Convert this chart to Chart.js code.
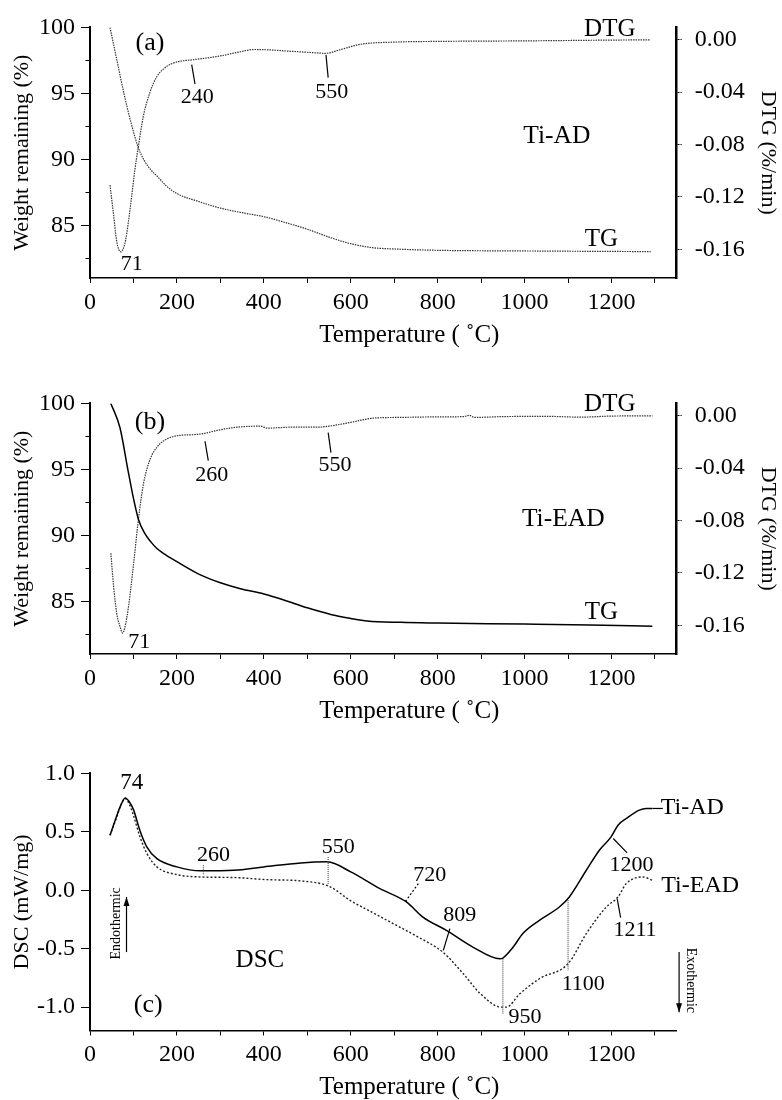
<!DOCTYPE html>
<html>
<head>
<meta charset="utf-8">
<script src="https://cdn.jsdelivr.net/npm/chart.js@4.4.0/dist/chart.umd.min.js"></script>
<style>
  body { margin: 0; background: #fff; }
  .panel { position: absolute; left: 0; width: 782px; }
</style>
</head>
<body>
<div class="panel" style="top:0px;height:350px"><canvas id="chartA" width="782" height="350"></canvas></div>
<div class="panel" style="top:376px;height:350px"><canvas id="chartB" width="782" height="350"></canvas></div>
<div class="panel" style="top:753px;height:347px"><canvas id="chartC" width="782" height="347"></canvas></div>

<script>
// ---- axis ticks ----
const tempTicks = [0, 100, 200, 300, 400, 500, 600, 700, 800, 900, 1000, 1100, 1200, 1300];
const tempLabels = [0, 200, 400, 600, 800, 1000, 1200];
const weightTicks = [85, 90, 95, 100];
const weightMinor = [82.5, 87.5, 92.5, 97.5];
const dtgTicks = [0, -0.04, -0.08, -0.12, -0.16];
const dscTicks = [1.0, 0.5, 0.0, -0.5, -1.0];

// ---- (a) Ti-AD ----
const tgA_temp = [46, 62, 78, 95, 111, 125, 140, 155, 175, 200, 250, 300, 350, 400, 450, 500, 550, 600, 650, 700, 800, 1000, 1290];
const tgA_val  = [100, 97.5, 95.0, 92.7, 90.9, 89.9, 89.2, 88.7, 88.0, 87.4, 86.8, 86.3, 85.95, 85.65, 85.2, 84.7, 84.1, 83.6, 83.3, 83.2, 83.1, 83.05, 83.0];
const dtgA_temp = [46, 54, 61, 66, 71, 76, 82, 88, 95, 103, 111, 123, 138, 154, 170, 190, 210, 235, 300, 346, 377, 420, 454, 500, 542, 577, 623, 704, 800, 1000, 1200, 1290];
const dtgA_val  = [-0.111, -0.133, -0.153, -0.160, -0.162, -0.160, -0.153, -0.140, -0.122, -0.100, -0.082, -0.058, -0.040, -0.028, -0.022, -0.018, -0.0162, -0.0153, -0.0123, -0.0091, -0.0074, -0.0078, -0.0086, -0.0095, -0.0103, -0.0074, -0.0034, -0.0017, -0.0012, -0.0008, -0.0002, 0.0];

// ---- (b) Ti-EAD ----
const tgB_temp = [48, 69, 87, 100, 111.5, 125, 140, 154, 175, 200, 254, 300, 346, 400, 446, 500, 554, 600, 638, 715, 800, 1000, 1150, 1294];
const tgB_val  = [100, 98.15, 95.0, 92.8, 91.2, 90.2, 89.5, 89.0, 88.5, 88.0, 87.0, 86.4, 85.95, 85.55, 85.1, 84.5, 84.0, 83.7, 83.5, 83.4, 83.35, 83.27, 83.2, 83.1];
const dtgB_temp = [48, 54, 61.5, 69, 75, 80, 88.5, 100, 111.5, 123, 138.5, 154, 170, 190, 210, 238, 261, 292, 338, 392, 408, 461, 523, 550, 600, 654, 715, 800, 860, 873, 885, 950, 1050, 1130, 1200, 1294];
const dtgB_val  = [-0.105, -0.129, -0.151, -0.161, -0.166, -0.162, -0.146, -0.114, -0.079, -0.052, -0.033, -0.024, -0.019, -0.016, -0.0148, -0.0144, -0.0136, -0.0112, -0.0087, -0.0079, -0.0094, -0.0087, -0.0087, -0.0079, -0.005, -0.0017, -0.0012, -0.0008, -0.0006, 0.0004, -0.0012, -0.0006, -0.0004, -0.0010, -0.0002, 0.0];

// ---- (c) DSC ----
const dscAD_temp = [46, 60, 70, 81, 90, 100, 115, 131, 154, 200, 254, 331, 400, 485, 546, 600, 667, 728, 766, 820, 881, 943, 950, 973, 996, 1034, 1080, 1103, 1142, 1172, 1199, 1215, 1234, 1264, 1280, 1294];
const dscAD_val  = [0.47, 0.62, 0.72, 0.79, 0.76, 0.69, 0.51, 0.37, 0.27, 0.20, 0.166, 0.171, 0.20, 0.234, 0.243, 0.157, 0.014, -0.10, -0.229, -0.343, -0.486, -0.586, -0.58, -0.49, -0.37, -0.257, -0.143, -0.057, 0.171, 0.343, 0.457, 0.557, 0.614, 0.686, 0.70, 0.70];
const dscEAD_temp = [46, 60, 70, 81, 90, 100, 115, 131, 154, 200, 254, 331, 408, 485, 550, 600, 650, 700, 750, 812, 858, 897, 946, 958, 989, 1034, 1100, 1142, 1188, 1215, 1234, 1272, 1294];
const dscEAD_val  = [0.47, 0.61, 0.72, 0.785, 0.74, 0.64, 0.457, 0.314, 0.20, 0.134, 0.114, 0.109, 0.091, 0.08, 0.034, -0.09, -0.19, -0.29, -0.39, -0.53, -0.71, -0.88, -1.0, -1.0, -0.886, -0.757, -0.629, -0.371, -0.143, -0.057, 0.057, 0.114, 0.086];

// text notes, placed in data units (x = temperature, y = left axis)
const notesA = {
  texts: [
    {t: '(a)', x: 138, y: 98.77, size: 26},
    {t: '240', x: 247, y: 94.72, size: 22},
    {t: '550', x: 556, y: 95.09, size: 22},
    {t: '71', x: 96, y: 82.08, size: 22},
    {t: 'DTG', x: 1196, y: 99.87, size: 25},
    {t: 'TG', x: 1177, y: 83.93, size: 25},
    {t: 'Ti-AD', x: 1074, y: 91.77, size: 25.5}
  ],
  lines: [
    {x1: 234, y1: 97.18, x2: 241.6, y2: 95.71},
    {x1: 543, y1: 97.92, x2: 548, y2: 96.19}
  ],
  minorY: weightMinor,
  xTitle: 'Temperature ( ˚C)'
};
const notesB = {
  texts: [
    {t: '(b)', x: 138, y: 98.6, size: 26},
    {t: '260', x: 280, y: 94.55, size: 22},
    {t: '550', x: 564, y: 95.29, size: 22},
    {t: '71', x: 113.5, y: 81.91, size: 22},
    {t: 'DTG', x: 1196, y: 99.95, size: 25},
    {t: 'TG', x: 1177, y: 84.12, size: 25},
    {t: 'Ti-EAD', x: 1089, y: 91.24, size: 25.5}
  ],
  lines: [
    {x1: 264.6, y1: 97.13, x2: 272.2, y2: 95.66},
    {x1: 548, y1: 97.79, x2: 554.5, y2: 96.27}
  ],
  minorY: weightMinor,
  xTitle: 'Temperature ( ˚C)'
};
const notesC = {
  texts: [
    {t: '74', x: 96, y: 0.914, size: 23},
    {t: '260', x: 284, y: 0.30, size: 22},
    {t: '550', x: 571, y: 0.371, size: 22},
    {t: '720', x: 782, y: 0.129, size: 22},
    {t: '809', x: 851, y: -0.214, size: 22},
    {t: '950', x: 1001, y: -1.086, size: 22},
    {t: '1100', x: 1135, y: -0.80, size: 22},
    {t: '1200', x: 1246, y: 0.214, size: 22},
    {t: '1211', x: 1254, y: -0.343, size: 22},
    {t: 'Ti-AD', x: 1386, y: 0.709, size: 24},
    {t: 'Ti-EAD', x: 1404, y: 0.043, size: 24},
    {t: 'DSC', x: 391, y: -0.60, size: 25},
    {t: '(c)', x: 134, y: -0.985, size: 26},
    {t: 'Endothermic', x: 60, y: -0.283, size: 14, rot: -90},
    {t: 'Exothermic', x: 1381, y: -0.771, size: 14, rot: 90}
  ],
  lines: [
    {x1: 261, y1: 0.214, x2: 261, y2: 0.129, dash: [1, 1], color: '#555'},
    {x1: 548, y1: 0.285, x2: 548, y2: 0.043, dash: [1, 1], color: '#555'},
    {x1: 755.5, y1: 0.057, x2: 725, y2: -0.10, dash: [2, 2]},
    {x1: 828, y1: -0.328, x2: 813, y2: -0.514},
    {x1: 950, y1: -0.585, x2: 950, y2: -1.057, dash: [1, 1], color: '#555'},
    {x1: 1100, y1: -0.086, x2: 1100, y2: -0.686, dash: [1, 1], color: '#555'},
    {x1: 1204, y1: 0.443, x2: 1236, y2: 0.32},
    {x1: 1213, y1: -0.071, x2: 1221, y2: -0.234},
    {x1: 1294, y1: 0.70, x2: 1318, y2: 0.70},
    {x1: 84, y1: -0.529, x2: 84, y2: -0.057, arrow: true},
    {x1: 1355.5, y1: -0.529, x2: 1355.5, y2: -1.043, arrow: true}
  ],
  minorY: [],
  xTitle: 'Temperature ( ˚C)'
};

Chart.defaults.font.family = "'Liberation Serif', 'Times New Roman', serif";
Chart.defaults.font.size = 24;
Chart.defaults.color = '#000';

function pts(xs, ys) {
  return xs.map((x, i) => ({x: x, y: ys[i]}));
}

// draws the labels, leader lines, minor ticks and the x title
const notesPlugin = {
  id: 'notes',
  afterDraw(chart, args, opts) {
    const ctx = chart.ctx;
    const xs = chart.scales.x, ys = chart.scales.y;
    ctx.save();
    (opts.lines || []).forEach(l => {
      const x1 = xs.getPixelForValue(l.x1), y1 = ys.getPixelForValue(l.y1);
      const x2 = xs.getPixelForValue(l.x2), y2 = ys.getPixelForValue(l.y2);
      ctx.beginPath();
      ctx.setLineDash(l.dash || []);
      ctx.lineWidth = 1.2;
      ctx.strokeStyle = l.color || '#000';
      ctx.moveTo(x1, y1);
      ctx.lineTo(x2, y2);
      ctx.stroke();
      if (l.arrow) {
        const a = Math.atan2(y2 - y1, x2 - x1);
        ctx.setLineDash([]);
        ctx.fillStyle = '#000';
        ctx.beginPath();
        ctx.moveTo(x2, y2);
        ctx.lineTo(x2 - 9 * Math.cos(a) + 3 * Math.sin(a), y2 - 9 * Math.sin(a) - 3 * Math.cos(a));
        ctx.lineTo(x2 - 9 * Math.cos(a) - 3 * Math.sin(a), y2 - 9 * Math.sin(a) + 3 * Math.cos(a));
        ctx.closePath();
        ctx.fill();
      }
    });
    ctx.setLineDash([]);
    ctx.strokeStyle = '#000';
    ctx.lineWidth = 1;
    (opts.minorY || []).forEach(v => {
      const py = Math.round(ys.getPixelForValue(v)) + 0.5;
      ctx.beginPath();
      ctx.moveTo(ys.right, py);
      ctx.lineTo(ys.right - 4.5, py);
      ctx.stroke();
    });
    ctx.fillStyle = '#000';
    ctx.textAlign = 'center';
    ctx.textBaseline = 'middle';
    (opts.texts || []).forEach(t => {
      ctx.save();
      ctx.translate(xs.getPixelForValue(t.x), ys.getPixelForValue(t.y));
      if (t.rot) ctx.rotate(t.rot * Math.PI / 180);
      ctx.font = t.size + "px 'Liberation Serif'";
      ctx.fillText(t.t, 0, 0);
      ctx.restore();
    });
    if (opts.xTitle) {
      // the title sits a little right of the axis centre in the original
      ctx.font = "25px 'Liberation Serif'";
      ctx.fillText(opts.xTitle, (xs.left + xs.right) / 2 + 26, xs.top + 57);
    }
    ctx.restore();
  }
};

function tempScale(boxHeight) {
  return {
    type: 'linear', position: 'bottom', min: 0, max: 1350,
    afterBuildTicks: s => { s.ticks = tempTicks.map(v => ({value: v})); },
    afterFit: s => { s.height = boxHeight; },
    grid: {drawOnChartArea: false, color: '#000', tickLength: 5, lineWidth: 1},
    border: {color: '#000', width: 1.5},
    ticks: {autoSkip: false, maxRotation: 0, padding: 5,
            callback: v => tempLabels.includes(v) ? String(v) : ''},
    title: {display: false}
  };
}

function leftScale(min, max, ticks, digits, text) {
  return {
    type: 'linear', position: 'left', min: min, max: max,
    afterBuildTicks: s => { s.ticks = ticks.map(v => ({value: v})); },
    afterFit: s => { s.width = 90; },
    grid: {drawOnChartArea: false, color: '#000', tickLength: 9, lineWidth: 1},
    border: {color: '#000', width: 2},
    ticks: {padding: 6, callback: v => digits ? v.toFixed(digits) : String(v)},
    title: {display: true, text: text, font: {size: 22}, padding: {top: 9, bottom: 0}}
  };
}

function dtgScale() {
  return {
    type: 'linear', position: 'right', min: -0.182, max: 0.0095,
    afterBuildTicks: s => { s.ticks = dtgTicks.map(v => ({value: v})); },
    afterFit: s => { s.width = 105.3; },
    grid: {drawOnChartArea: false, color: '#000', tickLength: 5, lineWidth: 1, tickBorderDash: [2, 1]},
    border: {color: '#000', width: 2.5, dash: [1.5, 1]},
    ticks: {padding: 13, callback: v => v.toFixed(2)},
    title: {display: true, text: 'DTG (%/min)', font: {size: 22}, padding: {top: 1, bottom: 0}}
  };
}

const dotted = {borderColor: '#333', borderWidth: 1.2, borderDash: [1.5, 1]};
const solid = {borderColor: '#000', borderWidth: 1.5, borderDash: []};

function lineSet(data, style, axis) {
  return Object.assign({
    data: data, yAxisID: axis, pointRadius: 0, fill: false,
    cubicInterpolationMode: 'monotone', tension: 0.4
  }, style);
}

function tgPanel(id, tgData, tgStyle, dtgData, notes) {
  new Chart(document.getElementById(id), {
    type: 'line',
    data: {datasets: [lineSet(tgData, tgStyle, 'y'), lineSet(dtgData, dotted, 'y2')]},
    options: {
      responsive: false, animation: false,
      layout: {padding: {top: 20, left: 0, right: 0, bottom: 0}},
      scales: {
        x: tempScale(72),
        y: leftScale(81, 100, weightTicks, 0, 'Weight remaining (%)'),
        y2: dtgScale()
      },
      plugins: {legend: {display: false}, tooltip: {enabled: false}, notes: notes}
    },
    plugins: [notesPlugin]
  });
}

tgPanel('chartA', pts(tgA_temp, tgA_val), dotted, pts(dtgA_temp, dtgA_val), notesA);
tgPanel('chartB', pts(tgB_temp, tgB_val), solid, pts(dtgB_temp, dtgB_val), notesB);

new Chart(document.getElementById('chartC'), {
  type: 'line',
  data: {datasets: [
    lineSet(pts(dscAD_temp, dscAD_val), solid, 'y'),
    lineSet(pts(dscEAD_temp, dscEAD_val), {borderColor: '#222', borderWidth: 1.4, borderDash: [2, 2]}, 'y')
  ]},
  options: {
    responsive: false, animation: false,
    layout: {padding: {top: 20, left: 0, right: 105.3, bottom: 0}},
    scales: {
      x: tempScale(69.5),
      y: leftScale(-1.2, 1.0, dscTicks, 1, 'DSC (mW/mg)')
    },
    plugins: {legend: {display: false}, tooltip: {enabled: false}, notes: notesC}
  },
  plugins: [notesPlugin]
});
</script>
</body>
</html>
